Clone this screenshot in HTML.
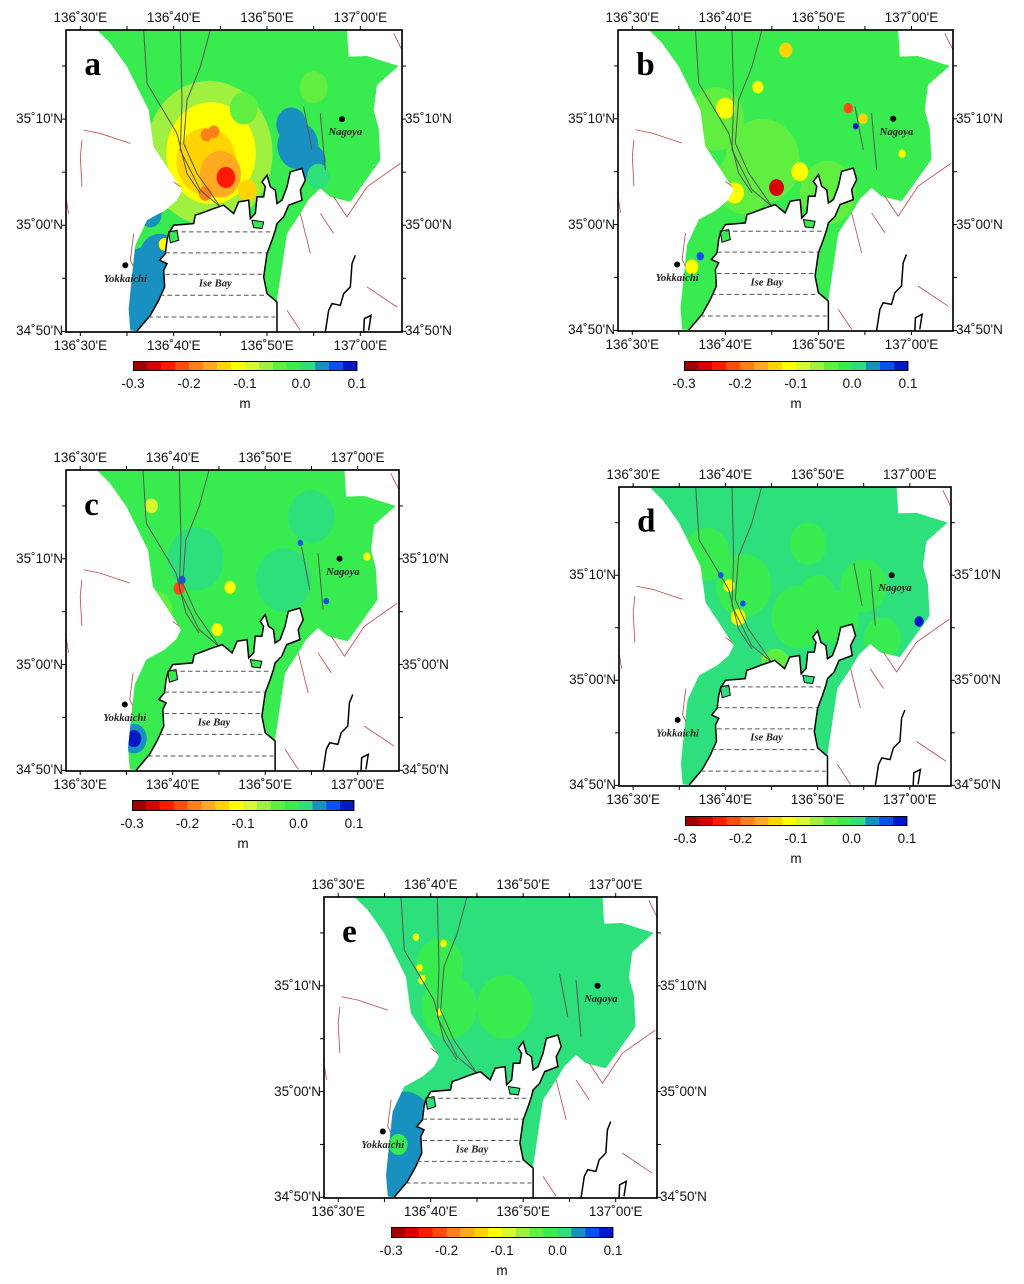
<!DOCTYPE html>
<html><head><meta charset="utf-8"><style>
body{margin:0;background:#fff;width:1024px;height:1284px;position:relative;overflow:hidden;font-family:"Liberation Sans",sans-serif}
.lbl{position:absolute;font-size:13.5px;color:#111;white-space:nowrap;line-height:14px}
svg{position:absolute;overflow:visible}
</style></head><body>
<script>
// colour classes (-0.3 .. 0.1 step 0.025)
const classColors=['#a00000','#d80000','#ff1a00','#ff4a10','#ff8018','#ffaa20','#ffd400','#ffff00','#d8f830','#a0f040','#60ee40','#38ec50','#2ee07c','#1890c0','#0a50f0','#0018c8'];
const cbTicks=[-0.3,-0.2,-0.1,0.0,0.1];
const lonTicks=[0,10,20,30]; // minutes after 136°30'
const lonLabels=["136˚30'E","136˚40'E","136˚50'E","137˚00'E"];
const latTicks=[10,0,-10]; // minutes relative to 35°00'
const latLabels=["35˚10'N","35˚00'N","34˚50'N"];
const panelIds=['a','b','c','d','e'];
const panelBase=[-0.02,-0.02,-0.02,0.005,0.005];
// anomaly blobs per panel: lon (min after 136°30'), lat (min rel. 35°00'), value (m), size (min)
const blobLon={
a:[13.8,14,13.5,15,15.6,13.5,14.3,13.4,17.9,23.3,22.6,24.7,7.5,8.5,7,9,25.5,17.5,25,7.5],
b:[14,12,9,11,8.5,10,16.5,13.5,21,18,23.2,24.8,24,6.4,7.3,15.5,29],
c:[12.5,8,10.7,11,16.2,7.7,14.8,20,5.8,5.8,22,31,23.8,26.6,25],
d:[12,18,8,11.4,10.4,9.5,11.9,31,14.5,22,25,19,27,15.5,20],
e:[12,18,7.5,7.2,11,8.4,9,10.9,11.4,7,8,8.8,9.1,6.5]};
const blobLat={
a:[6.8,6.8,6,4.8,4.5,8.5,8.8,3,3.3,7.5,9.5,6,-7,-3,-13,-1.8,4.6,11,13,1],
b:[6,4,10,3,5,11,16.5,13,3,5,11,10,9.3,-4,-3,3.5,6.7],
c:[10,5,7.2,8,7.3,15,3.3,8.1,-7,-7,8,10.2,11.5,6,14],
d:[9,6,12,6,9,10,7.3,5.6,2,6,9,13,4,1.5,8],
e:[8,8,-7,-3,12,14.6,10.5,7.5,14,-11,-9,11.7,10.7,-5]};
const blobVal={
a:[-0.06,-0.11,-0.14,-0.17,-0.25,-0.18,-0.2,-0.19,-0.15,0.04,0.04,0.04,0.04,0.04,0.07,-0.11,0.0,-0.04,-0.04,0.04],
b:[-0.05,-0.05,-0.05,-0.12,-0.2,-0.12,-0.13,-0.12,-0.05,-0.12,-0.22,-0.15,0.08,-0.12,0.07,-0.27,-0.12],
c:[0.005,-0.05,-0.22,0.07,-0.12,-0.08,-0.11,-0.06,0.04,0.08,0.005,-0.11,0.06,0.07,0.005],
d:[-0.02,-0.02,-0.02,-0.12,-0.11,0.06,0.06,0.08,-0.11,-0.02,-0.02,-0.02,-0.02,-0.04,-0.02],
e:[-0.02,-0.02,0.04,0.04,-0.02,-0.11,-0.11,-0.11,-0.11,0.04,0.04,-0.11,-0.11,-0.02]};
const blobSize={
a:[6.8,4.8,3.2,2.2,1,0.6,0.6,0.7,1,2.2,1.6,1.6,5,2.2,1,0.6,1.2,1.5,1.5,1.2],
b:[4,3,3,1,0.6,1,0.7,0.6,3,0.9,0.5,0.5,0.3,0.7,0.4,0.8,0.4],
c:[3,2,0.6,0.4,0.6,0.7,0.6,0.5,1.4,0.8,3,0.4,0.3,0.3,2.5],
d:[3,3,2.5,0.8,0.6,0.3,0.3,0.5,0.5,2.5,2.5,2,2,1.5,2],
e:[3,3,3.5,3,2.5,0.35,0.35,0.35,0.35,2,2,0.35,0.35,1]};
const panels=[
{x:66,y:30,w:336,h:302,cb:{x:133,y:361,w:224,h:10}},
{x:618,y:30,w:335,h:301,cb:{x:684,y:361,w:224,h:10}},
{x:66,y:470,w:333,h:301,cb:{x:132,y:800,w:222,h:11}},
{x:619,y:487,w:332,h:299,cb:{x:685,y:816,w:222,h:10}},
{x:324,y:897,w:333,h:301,cb:{x:391,y:1227,w:222,h:11}}];

const VX0=197,VY0=90,VW=1008,VH=905;
const X=m=>240+m*28, Y=m=>675-m*31.8;
const colorOf=v=>classColors[Math.max(0,Math.min(15,Math.floor((v+0.3)/0.025+1e-9)))];
const land="290,90 1040,90 1045,170 1100,168 1195,198 1130,255 1120,330 1135,385 1140,480 1050,605 990,590 960,565 925,598 900,640 860,700 830,900 830,905 800,880 790,830 800,760 815,720 825,690 830,670 850,650 865,615 905,600 900,570 915,540 905,505 870,515 860,560 845,600 830,610 825,570 810,560 800,525 785,545 795,560 790,590 770,590 765,640 750,655 745,600 715,605 700,640 670,615 640,625 600,640 585,645 580,670 520,675 505,700 500,720 495,760 478,780 500,790 490,810 493,860 475,900 450,945 410,992 390,990 385,925 400,780 405,735 440,660 495,630 530,600 545,570 500,500 460,440 445,330 420,280 380,200 330,130";
const coast="830,995 830,905 800,880 790,830 800,760 815,720 825,690 830,670 850,650 865,615 905,600 900,570 915,540 905,505 870,515 860,560 845,600 830,610 825,570 810,560 800,525 785,545 795,560 790,590 770,590 765,640 750,655 745,600 715,605 700,640 670,615 640,625 600,640 585,645 580,670 520,675 505,700 500,720 495,760 478,780 500,790 490,810 493,860 475,900 450,945 410,992";
const seCoast=["1065,765 1055,790 1050,860 1030,880 1020,915 995,910 985,930 975,995","1090,995 1092,955 1112,945 1105,990"];
const faults=["430,90 440,250 530,400 560,520 600,580","540,90 545,300 540,450 600,570 660,620","630,90 600,200 560,300 550,430 590,520 660,620","910,320 935,450","960,340 975,510"];
const redF=["250,390 300,400 390,430","245,420 240,470 245,560","195,580 205,640","1000,590 1040,650 1100,560 1200,490","900,640 930,760","1180,100 1205,150","960,640 1000,700","860,930 900,990","1100,860 1190,920","400,700 390,780 400,800","520,545 540,560"];
const NS='http://www.w3.org/2000/svg';
function mk(tag,attrs,parent){const e=document.createElementNS(NS,tag);for(const k in attrs)e.setAttribute(k,attrs[k]);parent.appendChild(e);return e;}
function lbl(txt,x,y,align){const d=document.createElement('div');d.className='lbl';d.textContent=txt;d.style.top=(y-7)+'px';
 if(align==='c'){d.style.left=(x-60)+'px';d.style.width='120px';d.style.textAlign='center';}
 else if(align==='r'){d.style.left=(x-120)+'px';d.style.width='120px';d.style.textAlign='right';}
 else d.style.left=x+'px';
 document.body.appendChild(d);return d;}
panels.forEach((p,i)=>{
 const id=panelIds[i];
 const s=mk('svg',{width:p.w,height:p.h,viewBox:`${VX0} ${VY0} ${VW} ${VH}`,preserveAspectRatio:'none'},document.body);
 s.style.left=p.x+'px';s.style.top=p.y+'px';
 
 
 const cp=mk('clipPath',{id:'clip'+id},s);mk('polygon',{points:land},cp);
 const landEl=mk('polygon',{points:land,fill:colorOf(panelBase[i])},s);
 
 
 const g=mk('g',{'clip-path':`url(#clip${id})`},s);
 blobLon[id].forEach((lo,k)=>{
  const e=mk('ellipse',{cx:X(lo),cy:Y(blobLat[id][k]),rx:blobSize[id][k]*28,ry:blobSize[id][k]*31.8,fill:colorOf(blobVal[id][k])},g);
  
  
 });
 mk('polygon',{points:"755,660 790,665 785,685 760,682",fill:colorOf(panelBase[i]),stroke:'#000','stroke-width':3},s);
 mk('polygon',{points:"505,695 530,690 535,720 510,728",fill:colorOf(panelBase[i]),stroke:'#000','stroke-width':3},s);
 redF.forEach(f=>mk('polyline',{points:f,fill:'none',stroke:'#c04a4a','stroke-width':2.5},s));
 faults.forEach(f=>mk('polyline',{points:f,fill:'none',stroke:'#555','stroke-width':3},s));
 const c=mk('polyline',{points:coast,fill:'none',stroke:'#000','stroke-width':4.5},s);
 
 
 seCoast.forEach(f=>mk('polyline',{points:f,fill:'none',stroke:'#000','stroke-width':4.5},s));
 [[695,520,820],[758,495,800],[822,495,795],[885,478,795],[950,445,825]].forEach(d=>mk('line',{x1:d[1],x2:d[2],y1:d[0],y2:d[0],stroke:'#555','stroke-width':3,'stroke-dasharray':'14 9'},s));
 mk('circle',{cx:1025,cy:357,r:9,fill:'#000'},s);
 mk('circle',{cx:375,cy:795,r:9,fill:'#000'},s);
 const tf='font-family:"Liberation Serif",serif;font-style:italic;font-weight:bold';
 let t=mk('text',{x:1035,y:405,'font-size':32,'text-anchor':'middle',style:tf,fill:'#222'},s);t.textContent='Nagoya';
 
 t=mk('text',{x:375,y:845,'font-size':32,'text-anchor':'middle',style:tf,fill:'#222'},s);t.textContent='Yokkaichi';
 
 t=mk('text',{x:645,y:858,'font-size':32,'text-anchor':'middle',style:tf,fill:'#222'},s);t.textContent='Ise Bay';
 
 t=mk('text',{x:252,y:225,'font-size':100,style:'font-family:"Liberation Serif",serif;font-weight:bold',fill:'#000'},s);t.textContent=id;
 
 mk('rect',{x:VX0,y:VY0,width:VW,height:VH,fill:'none',stroke:'#000','stroke-width':5},s);
 [-5,0,5,10,15,20,25,30,35].forEach(m=>{const xx=X(m);if(xx>VX0&&xx<VX0+VW){mk('line',{x1:xx,x2:xx,y1:VY0,y2:VY0-12,stroke:'#000','stroke-width':3},s);mk('line',{x1:xx,x2:xx,y1:VY0+VH,y2:VY0+VH+12,stroke:'#000','stroke-width':3},s);}});
 [-10,-5,0,5,10,15].forEach(m=>{const yy=Y(m);if(yy>=VY0&&yy<=VY0+VH){mk('line',{x1:VX0,x2:VX0-12,y1:yy,y2:yy,stroke:'#000','stroke-width':3},s);mk('line',{x1:VX0+VW,x2:VX0+VW+12,y1:yy,y2:yy,stroke:'#000','stroke-width':3},s);}});
 const px=m=>p.x+(X(m)-VX0)/VW*p.w, py=m=>p.y+(Y(m)-VY0)/VH*p.h;
 lonTicks.forEach((m,k)=>{let d=lbl(lonLabels[k],px(m),p.y-12,'c');
  d=lbl(lonLabels[k],px(m),p.y+p.h+14,'c');});
 latTicks.forEach((m,k)=>{let d=lbl(latLabels[k],p.x-3,py(m),'r');
  d=lbl(latLabels[k],p.x+p.w+3,py(m),'l');});
 const cb=mk('svg',{width:p.cb.w,height:p.cb.h},document.body);
 cb.style.left=p.cb.x+'px';cb.style.top=p.cb.y+'px';
 
 
 const cw=p.cb.w/classColors.length;
 classColors.forEach((col,k)=>mk('rect',{x:k*cw,y:0,width:cw+0.5,height:p.cb.h,fill:col},cb));
 mk('rect',{x:0.5,y:0.5,width:p.cb.w-1,height:p.cb.h-1,fill:'none',stroke:'#000','stroke-width':1},cb);
 cbTicks.forEach(v=>{const xx=p.cb.x+(v+0.3)/0.4*p.cb.w;const d=lbl(v.toFixed(1),xx,p.cb.y+p.cb.h+13,'c');});
 const m=lbl('m',p.cb.x+p.cb.w/2,p.cb.y+p.cb.h+33,'c');
});
</script>
</body></html>
